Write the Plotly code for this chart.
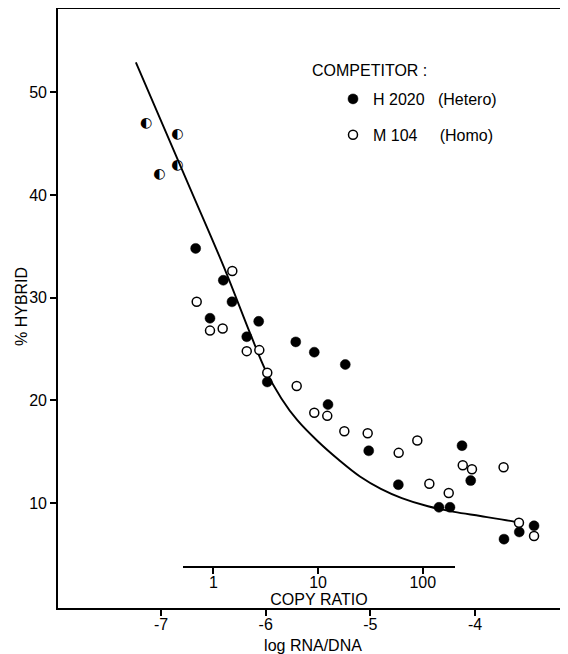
import numpy as np
import plotly.graph_objects as go

# ---- data ----
hetero_x = [-6.669, -6.405, -6.322, -6.532, -6.067, -6.181, -5.985, -5.713, -5.536, -5.240,
            -5.405, -5.016, -4.733, -4.345, -4.240, -4.125, -4.042, -3.724, -3.578, -3.437]
hetero_y = [34.8, 31.7, 29.6, 28.0, 27.7, 26.2, 21.8, 25.7, 24.7, 23.5,
            19.6, 15.1, 11.8, 9.6, 9.6, 15.6, 12.2, 6.5, 7.2, 7.8]

homo_x = [-6.319, -6.659, -6.532, -6.411, -6.181, -6.061, -5.985, -5.704, -5.536, -5.412,
          -5.249, -5.026, -4.730, -4.552, -4.437, -4.252, -4.118, -4.030, -3.728, -3.581, -3.437]
homo_y = [32.6, 29.6, 26.8, 27.0, 24.8, 24.9, 22.7, 21.4, 18.8, 18.5,
          17.0, 16.8, 14.9, 16.1, 11.9, 11.0, 13.7, 13.3, 13.5, 8.1, 6.8]

both_x = [-7.143, -6.844, -6.844, -7.016]
both_y = [47.0, 45.9, 42.9, 42.0]

curve_x = [-7.24, -6.72, -6.40, -6.14, -6.00, -5.85, -5.70, -5.50, -5.30, -5.10,
           -4.90, -4.70, -4.45, -4.20, -3.95, -3.65, -3.58]
curve_y = [52.9, 40.6, 33.0, 26.3, 22.9, 20.2, 18.1, 16.0, 14.2, 12.6,
           11.4, 10.5, 9.7, 9.15, 8.75, 8.25, 8.1]

x_tick_vals = [-7, -6, -5, -4]
x_tick_text = ["-7", "-6", "-5", "-4"]
y_tick_vals = [10, 20, 30, 40, 50]
copy_ratio_ticks = [1, 10, 100]
log_rna_at_ratio_1 = -6.5

FONT = "Liberation Sans, Arial, Helvetica, sans-serif"
NB = "\u00a0"

fig = go.Figure()

fig.add_trace(go.Scatter(x=curve_x, y=curve_y, mode="lines",
                         line=dict(color="black", width=1.9, shape="spline", smoothing=1.0),
                         showlegend=False, hoverinfo="skip"))

fig.add_trace(go.Scatter(x=hetero_x, y=hetero_y, mode="markers",
                         name="H" + NB + "2020" + NB * 3 + "(Hetero)", legendgroup="a",
                         marker=dict(symbol="circle", size=10, color="black", line=dict(color="black", width=0.5))))
fig.add_trace(go.Scatter(x=homo_x, y=homo_y, mode="markers",
                         name="M" + NB + "104" + NB * 5 + "(Homo)", legendgroup="b",
                         marker=dict(symbol="circle", size=9, color="white", line=dict(color="black", width=1.5))))
fig.add_trace(go.Scatter(x=both_x, y=both_y, mode="text", text=["\u25d0"] * len(both_x),
                         textfont=dict(family="DejaVu Sans", size=14, color="black"),
                         textposition="middle center", showlegend=False, hoverinfo="skip"))

# copy-ratio axis helper (no visible marks)
fig.add_trace(go.Scatter(x=copy_ratio_ticks, y=[None] * len(copy_ratio_ticks), xaxis="x2", yaxis="y",
                         mode="markers", showlegend=False, hoverinfo="skip"))

# the page body adds an 8 px offset; the figure is sized so that the plot area
# lands at x 58..568, y 9..608 in the window
px_per_unit = 104.7
x_left = -7 - (161 - 58) / px_per_unit
x_right = x_left + 510 / px_per_unit
r2_left = -7 + (183 - 161) / px_per_unit - log_rna_at_ratio_1
r2_right = -7 + (455 - 161) / px_per_unit - log_rna_at_ratio_1

fig.update_layout(
    width=560, height=646,
    margin=dict(l=50, r=0, t=1, b=46),
    paper_bgcolor="white", plot_bgcolor="rgba(0,0,0,0)",
    font=dict(family=FONT, size=16, color="black"),
    showlegend=True,
    legend=dict(x=(333 - 58) / 510, xanchor="left", y=(608 - 82) / 599, yanchor="top",
                bgcolor="rgba(0,0,0,0)", font=dict(size=16), tracegroupgap=12, traceorder="grouped"),
    xaxis=dict(range=[x_left, x_right], tickvals=x_tick_vals, ticktext=x_tick_text,
               ticks="outside", ticklen=6, tickwidth=1.5, tickcolor="black",
               showline=True, linecolor="black", linewidth=1.6, mirror=True,
               showgrid=False, zeroline=False, automargin=False, ticklabelstandoff=-5,
               title=dict(text="log" + NB + "RNA/DNA", standoff=12, font=dict(size=16))),
    yaxis=dict(range=[-0.2, 58.1], tickvals=y_tick_vals,
               ticks="outside", ticklen=6, tickwidth=1.5, tickcolor="black",
               showline=True, linecolor="black", linewidth=1.6,
               showgrid=False, zeroline=False, automargin=False),
    xaxis2=dict(type="log", range=[r2_left, r2_right], domain=[(183 - 58) / 510, (455 - 58) / 510],
                anchor="free", position=(608 - 567) / 599, side="bottom",
                tickvals=copy_ratio_ticks, ticktext=[str(v) for v in copy_ratio_ticks],
                ticks="outside", ticklen=6, tickwidth=1.5, tickcolor="black",
                showline=True, linecolor="black", linewidth=1.6,
                showgrid=False, zeroline=False, automargin=False, ticklabelstandoff=-5,
                title=dict(text="COPY" + NB + "RATIO", standoff=2, font=dict(size=16))),
    annotations=[
        dict(text="COMPETITOR" + NB + ":", xref="paper", yref="paper",
             x=(310 - 58) / 510, y=(608 - 70) / 599, xanchor="left", yanchor="middle",
             showarrow=False, font=dict(size=16)),
        dict(text="%" + NB + "HYBRID", xref="paper", yref="paper", textangle=-90,
             x=(21 - 58) / 510, y=(608 - 307) / 599, xanchor="center", yanchor="middle",
             showarrow=False, font=dict(size=16)),
    ],
)

fig.write_html("out.html")
